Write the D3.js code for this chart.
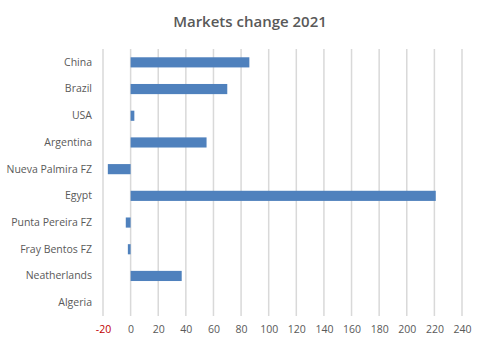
<!DOCTYPE html>
<html>
<head>
<meta charset="UTF-8">
<script src="https://cdnjs.cloudflare.com/ajax/libs/d3/7.8.5/d3.min.js"></script>
<style>
  body { margin: 0; background: #fff; }
  text { font-family: "Open Sans", "Liberation Sans", sans-serif; }
</style>
</head>
<body>
<svg id="chart" width="500" height="353"></svg>
<script>
// data
const markets = ["China", "Brazil", "USA", "Argentina", "Nueva Palmira FZ", "Egypt",
                 "Punta Pereira FZ", "Fray Bentos FZ", "Neatherlands", "Algeria"];
const change = [86, 70, 2.7, 55, -16.5, 221, -3.5, -2, 37, 0];
const ticks = [-20, 0, 20, 40, 60, 80, 100, 120, 140, 160, 180, 200, 220, 240];

const svg = d3.select("#chart");
const plotLeft = 103, plotRight = 462, plotTop = 49, plotBottom = 316;

const x = d3.scaleLinear().domain([-20, 240]).range([plotLeft, plotRight]);
const y = d3.scaleBand().domain(markets).range([plotTop, plotBottom]).paddingInner(0.62).paddingOuter(0.31);

svg.append("text")
  .attr("x", 250).attr("y", 27)
  .attr("text-anchor", "middle")
  .attr("font-size", 15).attr("font-weight", 600)
  .attr("fill", "#595959")
  .text("Markets change 2021");

// vertical gridlines
svg.append("g").selectAll("line")
  .data(ticks).enter().append("line")
  .attr("x1", d => x(d)).attr("x2", d => x(d))
  .attr("y1", plotTop).attr("y2", plotBottom)
  .attr("stroke", "#d9d9d9").attr("stroke-width", 1.5);

// bars
svg.append("g").selectAll("rect")
  .data(markets).enter().append("rect")
  .attr("x", (d, i) => Math.min(x(0), x(change[i])))
  .attr("width", (d, i) => Math.abs(x(change[i]) - x(0)))
  .attr("y", d => y(d))
  .attr("height", y.bandwidth())
  .attr("fill", "#4f81bd");

// x axis labels
const xAxis = svg.append("g")
  .attr("transform", "translate(0," + (plotBottom + 4) + ")")
  .call(d3.axisBottom(x).tickValues(ticks).tickFormat(d => String(d)).tickSize(0).tickPadding(6));
xAxis.select(".domain").remove();
xAxis.selectAll("text")
  .attr("font-size", 10.5)
  .attr("font-family", "Open Sans, Liberation Sans, sans-serif")
  .attr("fill", d => d < 0 ? "#c00000" : "#595959");

// category labels
const yAxis = svg.append("g")
  .attr("transform", "translate(" + (plotLeft - 11) + ",0)")
  .call(d3.axisLeft(y).tickSize(0).tickPadding(0));
yAxis.select(".domain").remove();
yAxis.selectAll("text")
  .attr("font-size", 10.5)
  .attr("font-family", "Open Sans, Liberation Sans, sans-serif")
  .attr("fill", "#595959");
</script>
</body>
</html>
